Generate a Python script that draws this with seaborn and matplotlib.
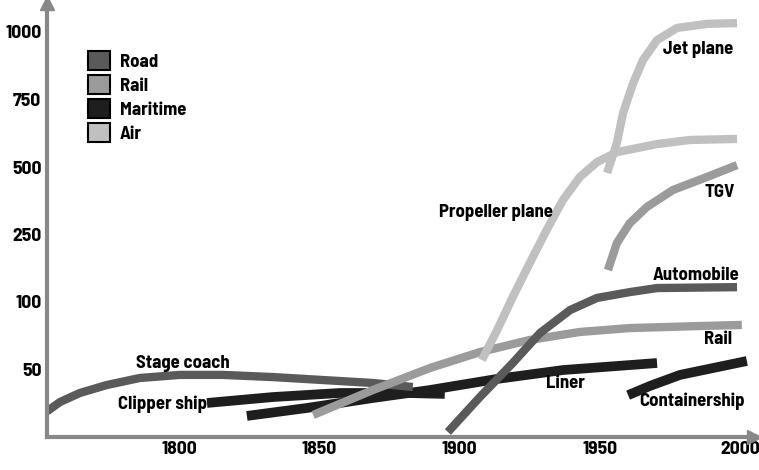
"""
Speed of transport modes, 1750-2000 (km/h, stretched speed axis).
"""
import matplotlib
matplotlib.use("Agg")
import matplotlib.pyplot as plt
from matplotlib.patches import Patch
import numpy as np
import seaborn as sns

# ---- data (year, km/h) ----
stage_coach_year = [1753, 1757.6, 1764.7, 1774.3, 1786, 1800.3, 1815.6, 1833.4, 1851.3, 1869.1, 1883.3]
stage_coach_kmh = [19, 25.9, 32.6, 38.5, 43.7, 46, 46, 44.4, 42.2, 40, 37]

automobile_year = [1895.8, 1907.2, 1918.9, 1928.6, 1939.3, 1948.9, 1960.6, 1970.3, 1998.8]
automobile_kmh = [3.7, 29.6, 54.8, 77, 94, 109, 122, 131, 133]

rail_year = [1847.8, 1869.1, 1889.4, 1907.2, 1925, 1942.8, 1960.6, 1985.6, 2000.5]
rail_kmh = [16.3, 34.8, 51.1, 62.9, 71.9, 77.8, 80.7, 82.2, 83]

tgv_year = [1952.8, 1956, 1960.6, 1966.7, 1976, 1988.1, 1998.8]
tgv_kmh = [171, 231, 292, 352, 415, 463, 507]

clipper_year = [1810, 1833.5, 1857.3, 1881.2, 1894.7]
clipper_kmh = [25.2, 29.6, 32.6, 32.6, 31.9]

liner_year = [1824.2, 1845.6, 1869.1, 1889.4, 1913.3, 1936.8, 1970.3]
liner_kmh = [15.6, 21.5, 28.9, 34.8, 43, 49.6, 54.8]

container_year = [1960, 1968, 1978.5, 2002.3]
container_kmh = [31, 38, 46, 56.3]

propeller_year = [1907.9, 1913.3, 1918.9, 1925, 1931, 1936.8, 1942.8, 1948.9, 1956, 1970.3, 1982, 1998.8]
propeller_kmh = [57, 79, 111, 187, 267, 378, 463, 518, 555, 585, 600, 604]

jet_year = [1952.5, 1956, 1958.2, 1961.8, 1965.3, 1970.3, 1977.4, 1988.1, 1998.8]
jet_kmh = [478, 589, 700, 811, 896, 970, 1015, 1030, 1033]

modes = ["Road", "Rail", "Maritime", "Air"]
mode_colors = ["#5a5a5a", "#9b9b9b", "#1e1e1e", "#c0c0c0"]

speed_ticks = [50, 100, 250, 500, 750, 1000]
year_ticks = [1800, 1850, 1900, 1950, 2000]

# the speed axis is hand-stretched: each labelled step gets equal room
knots = [0, 50, 100, 250, 500, 750, 1000, 1250]
knot_pos = np.arange(len(knots))

labels = [
    ("Stage coach", 1801.4, 54.8),
    ("Clipper ship", 1794.3, 24.4),
    ("Liner", 1937.8, 39.3),
    ("Containership", 1982.7, 26.7),
    ("Rail", 1992.0, 71.9),
    ("Automobile", 1984.2, 157.8),
    ("TGV", 1992.7, 407),
    ("Propeller plane", 1912.9, 330),
    ("Jet plane", 1984.9, 937),
]

sns.set_style("white")
plt.rcParams["font.family"] = ["Barlow Semi Condensed", "DejaVu Sans"]
plt.rcParams["font.weight"] = "bold"
font_size = 13.5

fig = plt.figure(figsize=(7.59, 4.70), dpi=100)
ax = fig.add_axes([47 / 759, 33 / 470, 708 / 759, 432 / 470])

ax.set_yscale("function", functions=(
    lambda v: np.interp(v, knots, knot_pos),
    lambda p: np.interp(p, knot_pos, knots),
))

road, rail, sea, air = mode_colors
series = [
    (clipper_year, clipper_kmh, sea, 7),
    (liner_year, liner_kmh, sea, 7),
    (container_year, container_kmh, sea, 7),
    (stage_coach_year, stage_coach_kmh, road, 6),
    (rail_year, rail_kmh, rail, 6),
    (tgv_year, tgv_kmh, rail, 6),
    (automobile_year, automobile_kmh, road, 6),
    (propeller_year, propeller_kmh, air, 6),
    (jet_year, jet_kmh, air, 6),
]
for xs, ys, c, w in series:
    sns.lineplot(x=xs, y=ys, color=c, lw=w, ax=ax, sort=False,
                 solid_capstyle="butt", solid_joinstyle="round")

for txt, x, y in labels:
    ax.text(x, y, txt, ha="center", va="center", fontsize=font_size,
            fontweight="bold", color="black")

ax.set_xlim(1753, 2005.2)
ax.set_ylim(0, 1100)
ax.set_xticks(year_ticks)
ax.set_yticks(speed_ticks)
ax.set_xticklabels([str(t) for t in year_ticks])
ax.set_yticklabels([str(t) for t in speed_ticks])
ax.minorticks_off()

axis_grey = "#888888"
for side in ["top", "right"]:
    ax.spines[side].set_visible(False)
for side in ["left", "bottom"]:
    ax.spines[side].set_color(axis_grey)
    ax.spines[side].set_linewidth(3)
ax.tick_params(axis="both", direction="in", length=9, width=3,
               color=axis_grey, labelsize=14, labelcolor="black")
ax.tick_params(axis="y", pad=4)
ax.tick_params(axis="x", pad=3)
for lab in ax.get_xticklabels() + ax.get_yticklabels():
    lab.set_fontweight("bold")

# arrowheads at the axis ends
ax.plot([0], [1.005], marker="^", ms=10, color=axis_grey,
        transform=ax.transAxes, clip_on=False)
ax.plot([0.998], [0], marker=">", ms=10, color=axis_grey,
        transform=ax.transAxes, clip_on=False)

handles = [Patch(facecolor=c, edgecolor="black", linewidth=1.5, label=m)
           for m, c in zip(modes, mode_colors)]
ax.legend(handles=handles, loc="upper left",
          bbox_to_anchor=((88 - 47) / 708, (437 - 51) / 432),
          frameon=False, borderpad=0, borderaxespad=0,
          handlelength=1.15, handleheight=1.15, labelspacing=0.23,
          handletextpad=0.55, labelcolor="black",
          prop={"weight": "bold", "size": font_size})

fig.savefig("out.png", dpi=100)
